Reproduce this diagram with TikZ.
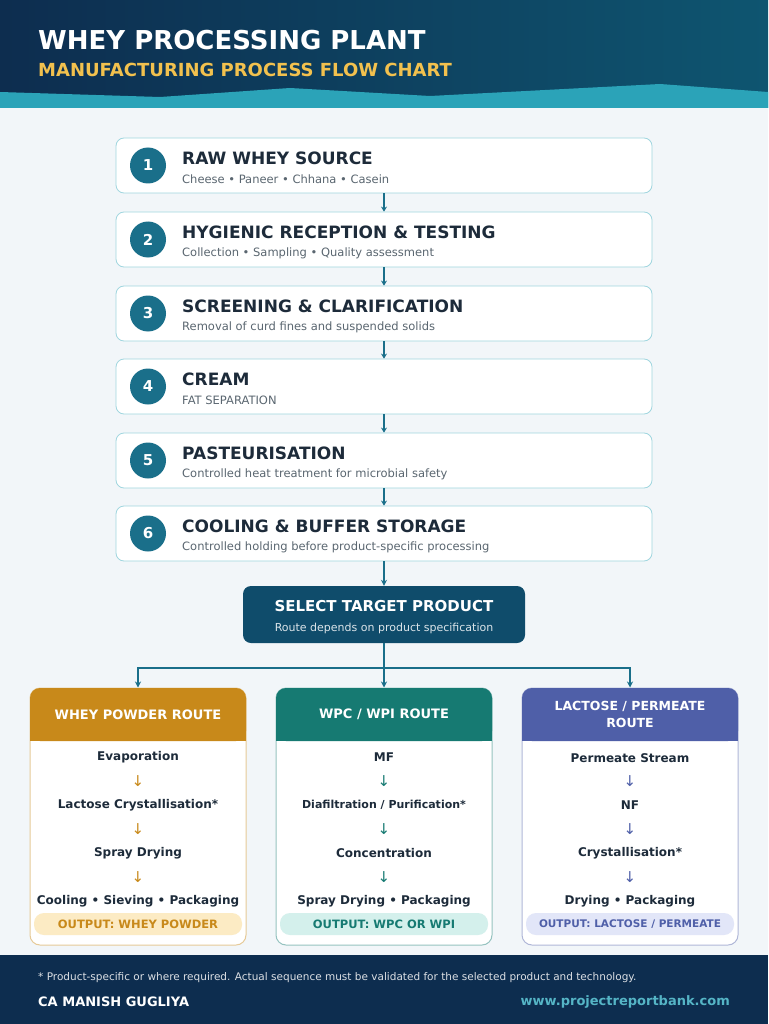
\documentclass[tikz,border=0pt]{standalone}
\usepackage{fontspec}
\setmainfont{DejaVu Sans}
\usetikzlibrary{positioning, arrows.meta}
\definecolor{navy}{HTML}{0D2D4F}
\definecolor{navyB}{HTML}{0E5570}
\definecolor{wave}{HTML}{2BA3B8}
\definecolor{paper}{HTML}{F2F6F9}
\definecolor{ink}{HTML}{1D2B3A}
\definecolor{grey}{HTML}{5A6670}
\definecolor{stepc}{HTML}{1A6F8A}
\definecolor{selc}{HTML}{0F4C6B}
\definecolor{gold}{HTML}{C8891A}
\definecolor{goldL}{HTML}{FCEBC4}
\definecolor{teal}{HTML}{167A72}
\definecolor{tealL}{HTML}{D4F0EC}
\definecolor{lav}{HTML}{4F5FA8}
\definecolor{lavL}{HTML}{E2E6F8}
\definecolor{sun}{HTML}{F2C14E}
\tikzset{arrow/.style={-{Stealth[length=6pt,width=6pt]}, stepc, line width=1.6pt}}
\begin{document}
\begin{tikzpicture}[x=1pt, y=-1pt,
        stepbox/.style={draw=wave!45, line width=0.8pt, fill=white, rounded corners=8pt, minimum width=536pt, minimum height=55pt},
        num/.style={circle, fill=stepc, minimum size=36pt, inner sep=0pt, text=white, font=\bfseries\fontsize{15}{15}\selectfont},
        head/.style={anchor=west, inner sep=0pt, text=ink, font=\bfseries\fontsize{17}{17}\selectfont},
        sub/.style={anchor=west, inner sep=0pt, text=grey, font=\fontsize{11.5}{12}\selectfont},
        item/.style={inner sep=0pt, text=ink, font=\bfseries\fontsize{12}{12}\selectfont},
        down/.style={inner sep=0pt, font=\fontsize{15}{15}\selectfont},
        pill/.style={rounded corners=10pt, minimum width=208pt, minimum height=22pt, inner sep=0pt, font=\bfseries\fontsize{11.5}{12}\selectfont}
    ]
    \useasboundingbox (0,0) rectangle (768,1024);

    % Header and background
    \fill[paper] (0,100) rectangle (768,955);
    \shade[left color=navy, right color=navyB] (0,0) rectangle (768,108);
    \fill[wave] (0,92) -- (160,97) -- (290,88) -- (430,96) -- (660,84) -- (768,92) -- (768,108) -- (0,108) -- cycle;
    \node[anchor=west, inner sep=0pt, text=white, font=\bfseries\fontsize{26}{26}\selectfont] (title) at (38,40) {WHEY PROCESSING PLANT};
    \node[anchor=west, inner sep=0pt, text=sun, font=\bfseries\fontsize{18}{18}\selectfont] (subtitle) at (38,70) {MANUFACTURING PROCESS FLOW CHART};

    % Process steps
    \foreach \i/\y/\t/\s in {1/165.5/RAW WHEY SOURCE/Cheese • Paneer • Chhana • Casein,
        2/239.5/HYGIENIC RECEPTION \& TESTING/Collection • Sampling • Quality assessment,
        3/313.5/SCREENING \& CLARIFICATION/Removal of curd fines and suspended solids,
        4/386.5/CREAM / FAT SEPARATION/Product-specific removal and recovery of residual fat,
        5/460.5/PASTEURISATION/Controlled heat treatment for microbial safety,
        6/533.5/COOLING \& BUFFER STORAGE/Controlled holding before product-specific processing} {
        \node[stepbox] (s\i) at (384,\y) {};
        \node[num] (n\i) at (148,\y) {\i};
        \node[head] (h\i) at (182,\y-7) {\t};
        \node[sub] (d\i) at (182,\y+14) {\s};
    }
    \foreach \i [evaluate=\i as \j using int(\i+1)] in {1,...,5}
        \draw[arrow, line width=1.2pt, -{Stealth[length=5pt,width=6pt]}] (s\i) -- (s\j);

    % Selection
    \node[fill=selc, rounded corners=8pt, minimum width=282pt, minimum height=57pt] (sel) at (384,614.5) {};
    \node[inner sep=0pt, text=white, font=\bfseries\fontsize{15}{15}\selectfont] (selh) at (384,606) {SELECT TARGET PRODUCT};
    \node[inner sep=0pt, text=white!85!selc, font=\fontsize{11}{11}\selectfont] (sels) at (384,628) {Route depends on product specification};
    \draw[arrow] (s6) -- (sel);

    % Routes
    \foreach \k/\x/\c/\l in {a/138/gold/goldL, b/384/teal/tealL, c/630/lav/lavL} {
        \node[draw=\c!45, line width=1pt, fill=white, rounded corners=10pt, minimum width=216pt, minimum height=257pt] (r\k) at (\x,816.5) {};
        \fill[\c, rounded corners=10pt] (\x-108,688) rectangle (\x+108,741);
        \fill[\c] (\x-108,720) rectangle (\x+108,741);
        \node[pill, fill=\l, text=\c] (o\k) at (\x,924) {};
        \foreach \yy in {781,829,877} \node[down, text=\c] at (\x,\yy) {↓};
    }
    \node[inner sep=0pt, text=white, font=\bfseries\fontsize{13}{13}\selectfont] at (138,714.5) {WHEY POWDER ROUTE};
    \node[inner sep=0pt, text=white, font=\bfseries\fontsize{13}{13}\selectfont] at (384,714.5) {WPC / WPI ROUTE};
    \node[inner sep=0pt, text=white, align=center, font=\bfseries\fontsize{12.5}{17}\selectfont] at (630,714.5) {LACTOSE / PERMEATE\\ROUTE};

    \foreach \yy/\t in {757/Evaporation, 805/Lactose Crystallisation*, 853/Spray Drying, 901/Cooling • Sieving • Packaging}
        \node[item] at (138,\yy) {\t};
    \foreach \yy/\t in {757/MF / UF Separation, 805/{\fontsize{11}{11}\selectfont Diafiltration / Purification*}, 853/Concentration, 901/Spray Drying • Packaging}
        \node[item] at (384,\yy) {\t};
    \foreach \yy/\t in {758/Permeate Stream, 805/NF / RO or Evaporation, 853/Crystallisation*, 901/Drying • Packaging}
        \node[item] at (630,\yy) {\t};
    \node[inner sep=0pt, text=gold, font=\bfseries\fontsize{11.5}{12}\selectfont] at (oa) {OUTPUT: WHEY POWDER};
    \node[inner sep=0pt, text=teal, font=\bfseries\fontsize{11.5}{12}\selectfont] at (ob) {OUTPUT: WPC OR WPI};
    \node[inner sep=0pt, text=lav, font=\bfseries\fontsize{10.5}{11}\selectfont] at (oc) {OUTPUT: LACTOSE / PERMEATE};

    % Branch connectors
    \coordinate (fork) at (384,668);
    \draw[stepc, line width=2.5pt] (sel) -- (fork);
    \draw[stepc, line width=2.5pt] (138,668) -- (630,668);
    \draw[arrow] (138,667) -- (ra);
    \draw[arrow] (fork) -- (rb);
    \draw[arrow] (630,667) -- (rc);

    % Footer
    \fill[navy] (0,955) rectangle (768,1024);
    \node[anchor=west, inner sep=0pt, text=white!85!navy, font=\fontsize{10.5}{11}\selectfont] (note) at (38,978) {* Product-specific or where required. Actual sequence must be validated for the selected product and technology.};
    \node[anchor=west, inner sep=0pt, text=white, font=\bfseries\fontsize{13}{13}\selectfont] (author) at (38,1002) {CA MANISH GUGLIYA};
    \node[anchor=east, inner sep=0pt, text=wave!80!white, font=\bfseries\fontsize{13}{13}\selectfont] (web) at (730,1002) {www.projectreportbank.com};
\end{tikzpicture}
\end{document}
